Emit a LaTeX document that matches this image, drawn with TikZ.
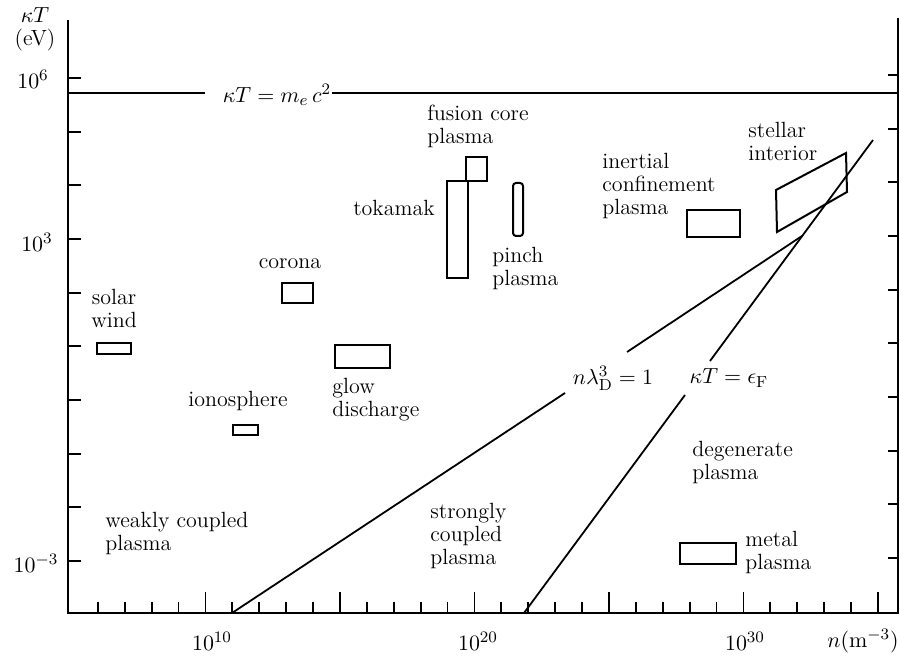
\documentclass[tikz,border=0pt]{standalone}
\begin{document}
\begin{tikzpicture}[x=0.5pt,y=-0.5pt,
  font=\fontsize{11}{11.5}\selectfont,
  lbl/.style={inner sep=0pt, align=left, anchor=west},
  cl/.style={inner sep=0pt, align=center},
  box/.style={draw, line width=1pt},
  axisln/.style={line width=1.2pt},
  tickln/.style={line width=0.9pt},
  curve/.style={line width=0.9pt}]
\useasboundingbox (0,0) rectangle (900,657);
% axes
\draw[axisln] (68,20) -- (68,613) -- (898,613) -- (898,18);
\foreach \d in {-3,...,6} \draw[tickln] (68,{561-53.67*(\d+3)}) -- ++(13,0);
\foreach \d in {-3,...,6} \draw[tickln] (898,{558-53.67*(\d+3)}) -- ++(-10,0);
\foreach \d in {6,...,35} {
  \pgfmathsetmacro\len{ifthenelse(mod(\d,5)==0,21,11)}
  \draw[tickln] ({205.4+26.9*(\d-10)},613) -- ++(0,-\len);
}
% axis labels
\node[cl] (kT) at (35,15) {$\kappa T$};
\node[cl] (eV) at (35,40) {(eV)};
\node[cl] (y6) at (33,79) {$10^6$};
\node[cl] (y3) at (37,242) {$10^3$};
\node[cl] (ym3) at (36,563) {$10^{-3}$};
\node[cl] (x10) at (212,641) {$10^{10}$};
\node[cl] (x20) at (478,641) {$10^{20}$};
\node[cl] (x30) at (745,641) {$10^{30}$};
\node[cl] (xn) at (863,641) {$n(\mathrm{m}^{-3})$};
% rest-mass line
\node[cl] (mec) at (277,95) {$\kappa T = m_e\, c^2$};
\coordinate (mA) at (68,93);
\coordinate (mB) at (205,93);
\coordinate (mC) at (332,93);
\coordinate (mD) at (898,93);
\draw[line width=1.1pt] (mA) -- (mB);
\draw[line width=1.1pt] (mC) -- (mD);
% boxes
\draw[box] (97,343) rectangle (131,354);
\draw[box] (282,283) rectangle (313,303);
\draw[box] (335,345) rectangle (390,368);
\draw[box] (233,425) rectangle (258,435);
\draw[box] (680,543) rectangle (736,564);
\draw[box] (466,157) rectangle (487,181);
\draw[box] (447,181) rectangle (468,278);
\draw[box, rounded corners=1.5] (513,183) rectangle (523,236);
\draw[box] (687,210) rectangle (740,237);
\draw[box] (776,190) -- (846,153) -- (847,192) -- (777,232) -- cycle;
% region labels
\node[cl] (sw) at (114,308) {solar\\wind};
\node[cl] (cor) at (290,264) {corona};
\node[lbl] (glow) at (332,400) {glow\\discharge};
\node[cl] (iono) at (238,401) {ionosphere};
\node[lbl] (weak) at (105,534) {weakly coupled\\plasma};
\node[lbl] (strong) at (430,536) {strongly\\coupled\\plasma};
\node[lbl] (deg) at (692,463) {degenerate\\plasma};
\node[lbl] (met) at (745,552) {metal\\plasma};
\node[lbl] (fus) at (427,126) {fusion core\\plasma};
\node[cl] (tok) at (394,208) {tokamak};
\node[lbl] (pin) at (492,269) {pinch\\plasma};
\node[lbl] (icf) at (602,186) {inertial\\confinement\\plasma};
\node[lbl] (stel) at (748,141) {stellar\\interior};
% boundary lines
\coordinate (nA) at (232,613);
\coordinate (nB) at (565,393);
\coordinate (nC) at (627,352);
\coordinate (nD) at (802,236);
\coordinate (eA) at (524,613);
\coordinate (eB) at (685,395);
\coordinate (eC) at (710,361);
\coordinate (eD) at (873,140);
\draw[curve] (nA) -- (nB);
\draw[curve] (nC) -- (nD);
\draw[curve] (eA) -- (eB);
\draw[curve] (eC) -- (eD);
\node[cl] (nl) at (613,378) {$n\lambda_{\mathrm{D}}^3=1$};
\node[cl] (ef) at (729,378) {$\kappa T=\epsilon_{\mathrm{F}}$};
\end{tikzpicture}
\end{document}
